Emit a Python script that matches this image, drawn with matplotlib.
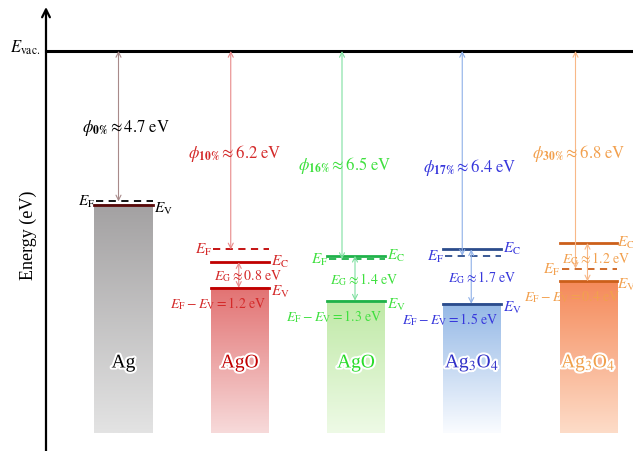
import matplotlib.pyplot as plt
import matplotlib.patheffects as pe
import numpy as np
from matplotlib.colors import to_rgb

plt.rcParams['mathtext.fontset'] = 'stix'
plt.rcParams['font.family'] = ['Liberation Serif', 'DejaVu Serif']

# Band alignment data (energies in eV, vacuum level = 0)
names = ['Ag', 'AgO', 'AgO', r'Ag$_3$O$_4$', r'Ag$_3$O$_4$']
percent = ['0', '10', '16', '17', '30']
work_function = [4.7, 6.2, 6.5, 6.4, 6.8]      # E_vac - E_F
ef_minus_ev = [0.1, 1.2, 1.3, 1.5, 0.4]        # E_F - E_V
band_gap = [None, 0.8, 1.4, 1.7, 1.2]          # E_C - E_V

text_col = ['black', '#d42a2a', '#3fe03f', '#3838dc', '#f2a04e']
name_col = ['black', '#c00000', '#28dc28', '#3030c8', '#f0a04a']
line_col = ['#5a0a0a', '#c00000', '#1fb24a', '#2b4c8c', '#cc5f1a']
arrow_col = ['#a88a8a', '#e88a8a', '#7fe0a0', '#8fb0e8', '#f8b888']
bar_top = ['#a3a1a2', '#e27272', '#bfe9a6', '#94b8e6', '#f58a5a']
bar_bot = ['#e3e3e3', '#f7dada', '#eefae6', '#fafcff', '#fddcc8']

# label / arrow placement (px) relative to each column centre
phi_dx = [2, -5, -11, -2, -10]
phi_y = [128, 153, 165, 167, 153]
phi_arrow_dx = [-5, -9, -14, -10, -13]
gap_x = [0, -26, -26, -24, -27]      # left edge of the band gap label
diff_dx = [0, -22, -22, -22, -16]

# layout: pixel scale of the canvas
W, H = 633, 452
PX_EV = 32.0           # pixels per eV
EVAC_PX = 52
X0, DX = 123.5, 116.25  # first column centre and column spacing in px
hx = lambda p: p / DX
vy = lambda p: p / PX_EV

fig = plt.figure(figsize=(W / 100, H / 100), dpi=100)
ax = fig.add_axes([0, 0, 1, 1])
ax.set_xlim(-X0 / DX, (W - X0) / DX)
ax.set_ylim(-(H - EVAC_PX) / PX_EV, EVAC_PX / PX_EV)
ax.axis('off')

axis_x = hx(46 - X0)
bar_bottom = -vy(434 - EVAC_PX)
half = hx(29)

# energy axis with arrow and vacuum level
ax.annotate('', xy=(axis_x, vy(EVAC_PX - 8)), xytext=(axis_x, -vy(H - EVAC_PX)),
            arrowprops=dict(arrowstyle='->', lw=1.6, color='black',
                            shrinkA=0, shrinkB=0, mutation_scale=14))
ax.plot([axis_x, hx(W - X0)], [0, 0], color='black', lw=2.2)
ax.text(axis_x - hx(6), vy(4), r'$E_{\mathrm{vac.}}$', ha='right', va='center',
        fontsize=12)
ax.text(hx(28 - X0), -vy(235 - EVAC_PX), 'Energy (eV)', rotation=90,
        ha='center', va='center', fontsize=13)

glow = [pe.withStroke(linewidth=3, foreground='white')]
arrow_kw = dict(arrowstyle='<->', lw=0.8, shrinkA=0, shrinkB=0, mutation_scale=9)

for i in range(len(names)):
    ef = -work_function[i]
    ev = ef - ef_minus_ev[i]
    tc = text_col[i]
    # keep the right-edge labels of the last column inside the canvas
    side_dx = 0 if i == len(names) - 1 else 2

    # gradient bar below the valence band
    c1, c2 = np.array(to_rgb(bar_top[i])), np.array(to_rgb(bar_bot[i]))
    t = np.linspace(0, 1, 200)[:, None]
    grad = (c1 * (1 - t) + c2 * t)[:, None, :]
    ax.imshow(grad, extent=(i - half, i + half, bar_bottom, ev),
              aspect='auto', origin='upper', zorder=1)
    ax.text(i, -vy(364 - EVAC_PX), names[i], color=name_col[i], fontsize=14,
            ha='center', va='center', path_effects=glow, zorder=3)

    # Fermi and valence levels
    ax.plot([i - half, i + half], [ev, ev], color=line_col[i], lw=2, zorder=2)
    ef_col = 'black' if i == 0 else line_col[i]
    ax.plot([i - half + hx(2), i + half], [ef, ef], color=ef_col, lw=1.3,
            ls=(0, (4, 3)), zorder=2)
    ax.text(i - half + hx(1), ef, r'$E_{\mathrm{F}}$', color=tc, fontsize=11,
            ha='right', va='center')
    ax.text(i + half + hx(side_dx), ev - vy(3), r'$E_{\mathrm{V}}$', color=tc,
            fontsize=11, ha='left', va='center')

    # work function arrow
    phi_x = i + hx(phi_arrow_dx[i])
    ax.annotate('', xy=(phi_x, ef), xytext=(phi_x, 0),
                arrowprops=dict(color=arrow_col[i], **arrow_kw))
    phi_label = r'$\phi_{\mathbf{%s\%%}} \approx %.1f\ \mathrm{eV}$' % (
        percent[i], work_function[i])
    ax.text(i + hx(phi_dx[i]), -vy(phi_y[i] - EVAC_PX), phi_label, color=tc,
            fontsize=12, ha='center', va='center')

    if band_gap[i] is None:
        continue
    # conduction level and band gap arrow
    ec = ev + band_gap[i]
    ax.plot([i - half, i + half], [ec, ec], color=line_col[i], lw=2, zorder=2)
    ax.text(i + half + hx(side_dx), ec + vy(1), r'$E_{\mathrm{C}}$', color=tc,
            fontsize=11, ha='left', va='center')
    gx = i + hx(-1)
    ax.annotate('', xy=(gx, ev), xytext=(gx, ec),
                arrowprops=dict(color=arrow_col[i], **arrow_kw))
    # gap label sits between E_C and E_V, or just above E_F when E_F is near E_V
    gy = (ec + ev) / 2 if ef_minus_ev[i] > band_gap[i] / 2 else ef + vy(11)
    ax.text(i + hx(gap_x[i]), gy,
            r'$E_{\mathrm{G}} \approx %.1f\ \mathrm{eV}$' % band_gap[i],
            color=tc, fontsize=10, ha='left', va='center')
    ax.text(i + hx(diff_dx[i]), ev - vy(15),
            r'$E_{\mathrm{F}} - E_{\mathrm{V}} = %.1f\ \mathrm{eV}$' % ef_minus_ev[i],
            color=tc, fontsize=10, ha='center', va='center', zorder=3)

fig.savefig('out.png', dpi=100)
